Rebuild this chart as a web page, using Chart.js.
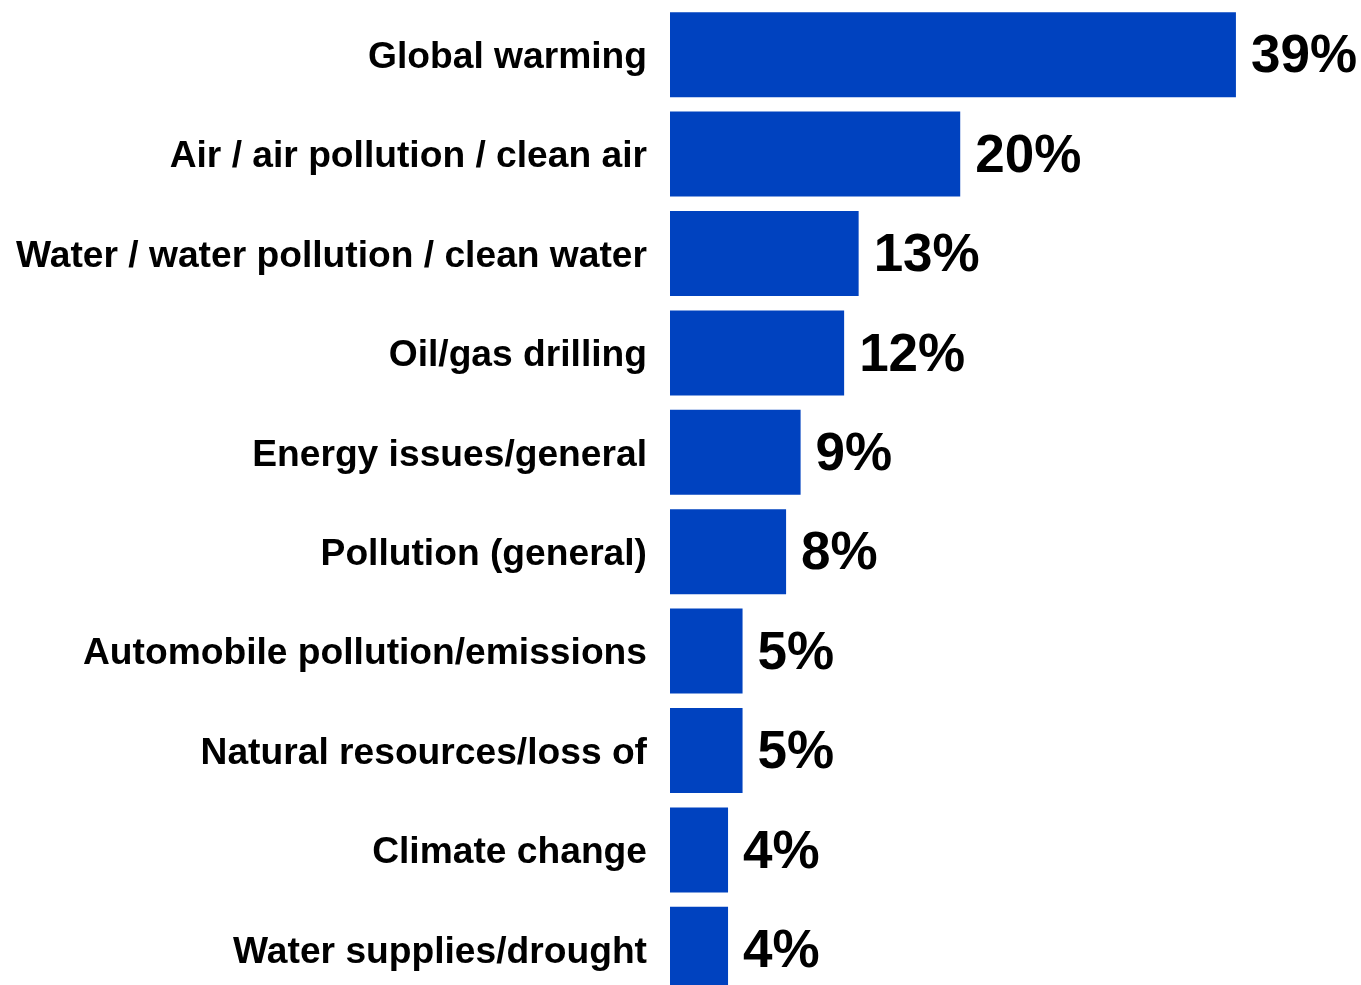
<!DOCTYPE html>
<html>
<head>
<meta charset="utf-8">
<script src="https://cdn.jsdelivr.net/npm/chart.js@4"></script>
<style>
  html, body { margin: 0; padding: 0; background: #fff; overflow: hidden; }
  canvas { display: block; }
</style>
</head>
<body>
<canvas id="c" width="1361" height="1000"></canvas>
<script>
const categories = [
  "Global warming",
  "Air / air pollution / clean air",
  "Water / water pollution / clean water",
  "Oil/gas drilling",
  "Energy issues/general",
  "Pollution (general)",
  "Automobile pollution/emissions",
  "Natural resources/loss of",
  "Climate change",
  "Water supplies/drought"
];
const values = [39, 20, 13, 12, 9, 8, 5, 5, 4, 4];
const valueLabels = ["39%", "20%", "13%", "12%", "9%", "8%", "5%", "5%", "4%", "4%"];

const FONT = "'Liberation Sans', Arial, Helvetica, sans-serif";
const barColor = "#0042BF";

const valueLabelPlugin = {
  id: "valueLabels",
  afterDatasetsDraw(chart) {
    const ctx = chart.ctx;
    const meta = chart.getDatasetMeta(0);
    ctx.save();
    ctx.font = "bold 53px " + FONT;
    ctx.fillStyle = "#000";
    ctx.textAlign = "left";
    ctx.textBaseline = "middle";
    meta.data.forEach((bar, i) => {
      ctx.fillText(valueLabels[i], bar.x + 15, bar.y + 3);
    });
    ctx.restore();
  }
};

new Chart(document.getElementById("c"), {
  type: "bar",
  data: {
    labels: categories,
    datasets: [{
      data: values,
      backgroundColor: barColor,
      borderWidth: 0,
      categoryPercentage: 1,
      barPercentage: 0.855
    }]
  },
  options: {
    indexAxis: "y",
    responsive: false,
    animation: false,
    devicePixelRatio: 1,
    layout: { padding: { top: 5, bottom: 1, left: 0, right: 38 } },
    plugins: { legend: { display: false }, tooltip: { enabled: false } },
    scales: {
      x: { display: false, min: 0, max: 45 },
      y: {
        grid: { display: false, drawTicks: false, tickLength: 0 },
        border: { display: false },
        ticks: {
          color: "#000",
          padding: 23,
          labelOffset: 3,
          font: { family: FONT, weight: "bold", size: 37.2 }
        },
        afterFit(scale) {
          scale.width = 670;
          scale.paddingTop = 0;
          scale.paddingBottom = 0;
        }
      }
    }
  },
  plugins: [valueLabelPlugin]
});
</script>
</body>
</html>
